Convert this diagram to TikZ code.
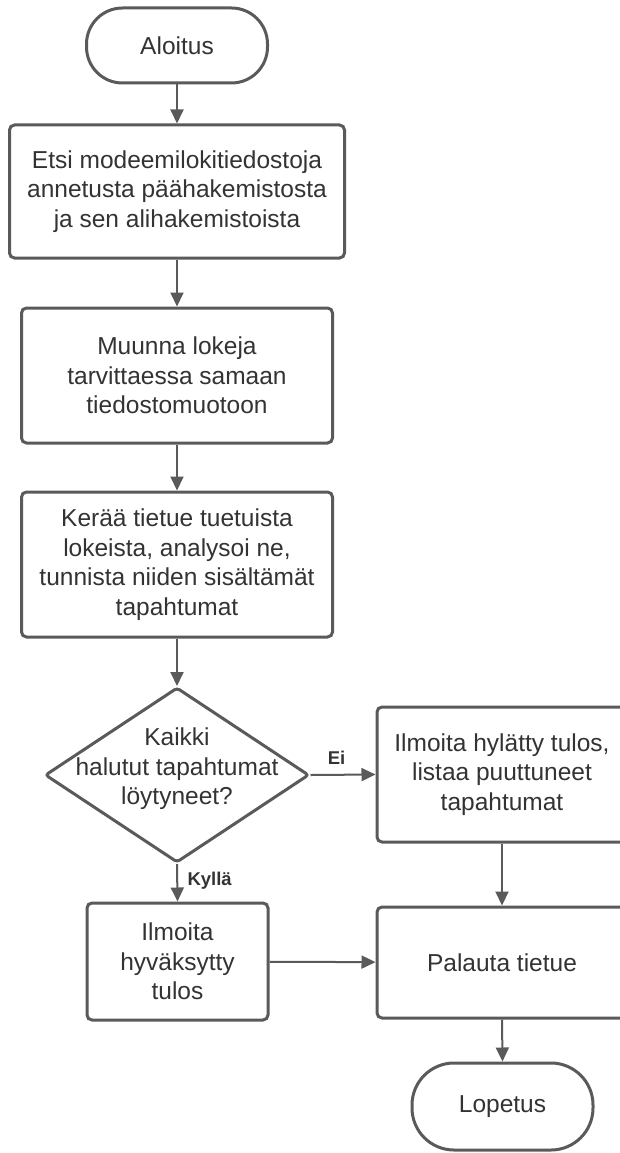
\documentclass[tikz,border=0pt]{standalone}
\usepackage{fontspec}
\setmainfont{Liberation Sans}
\usetikzlibrary{arrows.meta,shapes.geometric}
\definecolor{edge}{HTML}{5A5A5A}
\definecolor{ink}{HTML}{333333}
\begin{document}
\begin{tikzpicture}[x=1pt,y=-1pt,
  every node/.style={text=ink},
  body/.style={font=\fontsize{24.5}{29.5}\selectfont, align=center},
  terminal/.style={body, draw=edge, line width=3pt, fill=white, rounded corners=36pt,
    minimum width=181pt, inner sep=0pt},
  process/.style={body, draw=edge, line width=3pt, fill=white, rounded corners=5pt, inner sep=0pt},
  decision/.style={diamond, draw=edge, line width=3pt, fill=white, inner sep=0pt,
    minimum width=264pt, minimum height=175pt, rounded corners=3pt},
  flow/.style={draw=edge, line width=2pt, -{Triangle[length=14pt,width=13pt]}},
  branch/.style={font=\fontsize{18.5}{22}\selectfont\bfseries, text=ink}
]
\useasboundingbox (0,0) rectangle (619,1153);

% start and the three preparation steps
\node[terminal, minimum height=75pt] (start) at (177,45.5) {Aloitus};
\node[process, minimum width=335pt, minimum height=133pt] (find) at (177,191.5)
  {Etsi modeemilokitiedostoja\\annetusta päähakemistosta\\ja sen alihakemistoista};
\node[process, minimum width=311pt, minimum height=135pt] (conv) at (177,375.5)
  {Muunna lokeja\\tarvittaessa samaan\\tiedostomuotoon};
\node[process, minimum width=311pt, minimum height=145pt] (collect) at (177,564.5)
  {Kerää tietue tuetuista\\lokeista, analysoi ne,\\tunnista niiden sisältämät\\tapahtumat};

% decision
\node[decision] (check) at (177,775) {};
\node[body] at (177,769) {Kaikki\\halutut tapahtumat\\löytyneet?};

% outcomes
\node[process, minimum width=250pt, minimum height=135pt] (reject) at (502,774.5)
  {Ilmoita hylätty tulos,\\listaa puuttuneet\\tapahtumat};
\node[process, minimum width=181pt, minimum height=117pt] (accept) at (177.5,961.5)
  {Ilmoita\\hyväksytty\\tulos};
\node[process, minimum width=250pt, minimum height=111pt] (ret) at (502,962.5)
  {Palauta tietue};
\node[terminal, minimum height=87pt, rounded corners=42pt] (stop) at (502.5,1106.5) {Lopetus};

% connectors
\draw[flow] (start) -- (find);
\draw[flow] (find) -- (conv);
\draw[flow] (conv) -- (collect);
\draw[flow] (collect) -- (check);
\draw[flow] (check.east) -- node[branch, above=6pt, pos=0.4] {Ei} (reject.west);
\draw[flow] (check.south) -- node[branch, right=6pt, pos=0.45] {Kyllä} (accept.north);
\draw[flow] (reject) -- (ret);
\draw[flow] (accept) -- (ret);
\draw[flow] (ret.south) -- (stop.north);
\end{tikzpicture}
\end{document}
